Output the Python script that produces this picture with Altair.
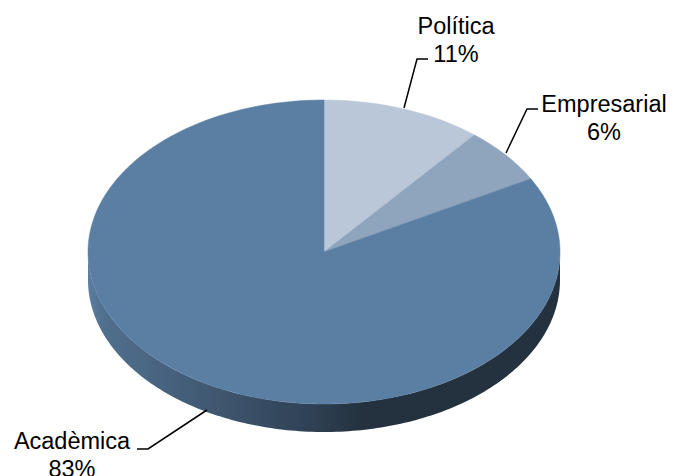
import math
import altair as alt
import pandas as pd

categories = ["Política", "Empresarial", "Acadèmica"]
shares = [11, 6, 83]
colors = ["#b9c7d9", "#8fa5bd", "#5b7ea3"]

labels = [
    ["Política", "11%"],
    ["Empresarial", "6%"],
    ["Acadèmica", "83%"],
]

W, H = 659, 468
CX, CY, RX, RY, DEPTH = 316, 244, 236, 152, 28


def px_x(p):
    return (p - CX) / RX


def px_y(p):
    return (CY - p) / RY


x_scale = alt.Scale(domain=[px_x(0), px_x(W)], range=[0, W], nice=False, zero=False)
y_scale = alt.Scale(domain=[px_y(H), px_y(0)], range=[H, 0], nice=False, zero=False)
X = alt.X("x:Q", scale=x_scale, axis=None)
Y = alt.Y("y:Q", scale=y_scale, axis=None)
noax = dict(x=X, y=Y)

# slices
layers = []
start = 0.0
for name, share, col in zip(categories, shares, colors):
    rows = [{"x": 0, "y": 0, "o": 0}]
    n = max(4, share * 3)
    for i in range(n + 1):
        a = math.radians((start + share * i / n) * 3.6)
        rows.append({"x": math.sin(a), "y": math.cos(a), "o": i + 1})
    rows.append({"x": 0, "y": 0, "o": n + 2})
    start += share
    layers.append(
        alt.Chart(pd.DataFrame(rows))
        .mark_line(fill=col, stroke=col, strokeWidth=0.5, interpolate="linear")
        .encode(order="o:Q", **noax)
    )

# rim below the ellipse
d = DEPTH / RY
rim_rows = []
for i in range(0, 181):
    a = math.radians(90 + i)
    rim_rows.append({"x": math.sin(a), "y": math.cos(a), "y2": math.cos(a) - d})
rim = (
    alt.Chart(pd.DataFrame(rim_rows))
    .mark_area(
        fill=alt.Gradient(
            gradient="linear", x1=1, x2=0, y1=0, y2=0,
            stops=[
                alt.GradientStop(color="#24323f", offset=0),
                alt.GradientStop(color="#24323f", offset=0.42),
                alt.GradientStop(color="#2e4053", offset=0.52),
                alt.GradientStop(color="#3f566f", offset=0.72),
                alt.GradientStop(color="#50708f", offset=0.97),
                alt.GradientStop(color="#5b7ea3", offset=1),
            ],
        )
    )
    .encode(x=X, y=Y, y2="y2:Q")
)

# leader lines
leaders = [
    [(404, 108), (417, 59), (428, 59)],
    [(506, 153), (527, 109), (538, 109)],
    [(207, 410), (148, 449), (137, 449)],
]
lead_layers = []
for pts in leaders:
    df = pd.DataFrame(
        [{"x": px_x(a - 8), "y": px_y(b - 8), "o": i} for i, (a, b) in enumerate(pts)]
    )
    lead_layers.append(
        alt.Chart(df).mark_line(color="#000000", strokeWidth=1.5).encode(order="o:Q", **noax)
    )

# label text
text_pos = [(456, 34), (604, 112), (72, 449)]
text_rows = []
for (tx, ty), lines in zip(text_pos, labels):
    for j, t in enumerate(lines):
        text_rows.append({"x": px_x(tx - 8), "y": px_y(ty - 8 + j * 27.5), "t": t})
text = (
    alt.Chart(pd.DataFrame(text_rows))
    .mark_text(font="Liberation Sans", fontSize=23.5, color="#000000", align="center", baseline="alphabetic")
    .encode(text="t:N", **noax)
)

chart = (
    alt.layer(rim, *layers, *lead_layers, text)
    .properties(width=W, height=H, padding=0, autosize=alt.AutoSizeParams(type="none"))
    .configure_view(stroke=None)
)
chart.save("out.html", embed_options={"renderer": "svg", "actions": False})
